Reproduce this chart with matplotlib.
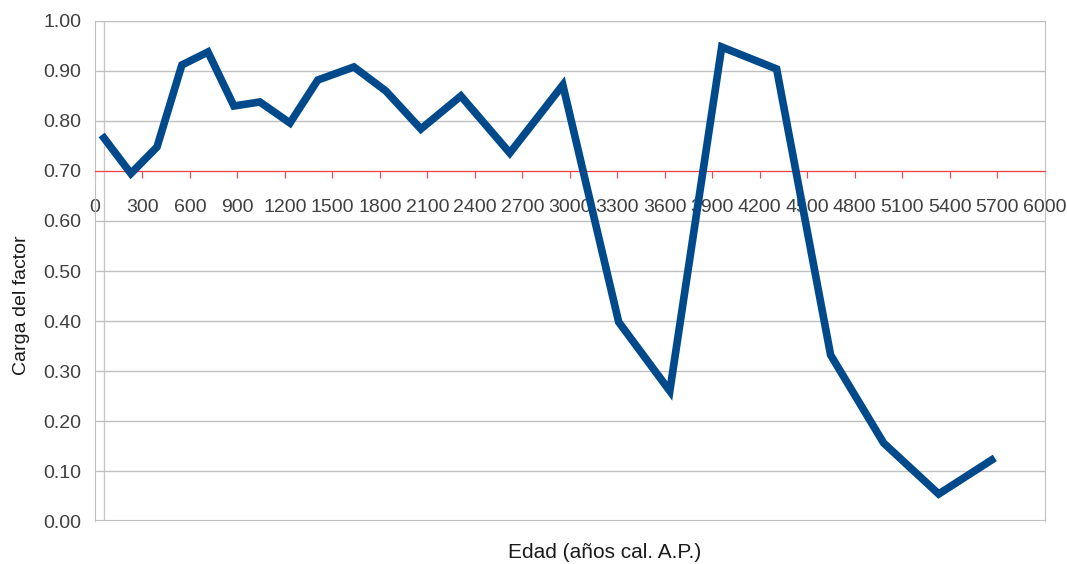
import numpy as np
import matplotlib.pyplot as plt

plt.rcParams['font.family'] = ['Liberation Sans', 'DejaVu Sans']

# Edad (años cal. A.P.) y carga del factor
edad = [57, 227, 392, 549, 714, 878, 1042, 1232, 1408, 1636, 1838, 2059,
        2312, 2621, 2956, 3309, 3632, 3960, 4307, 4648, 4983, 5331, 5665]
carga = [0.766, 0.695, 0.748, 0.912, 0.938, 0.830, 0.838, 0.796, 0.882, 0.908,
         0.860, 0.784, 0.850, 0.736, 0.872, 0.398, 0.260, 0.948, 0.904, 0.332,
         0.156, 0.054, 0.122]
xticks = np.arange(0, 6001, 300)
yticks = np.arange(0, 1.001, 0.1)

fig = plt.figure(figsize=(10.67, 5.64), dpi=100)
ax = fig.add_axes([0.089, 0.0762, 0.890, 0.8866])

# el eje X cruza en 0.70 (hay que fijarlo antes de los ticks)
ax.spines['bottom'].set_position(('data', 0.7))
ax.spines['bottom'].set_color('#ff3b3b')
for s in ['left', 'right', 'top']:
    ax.spines[s].set_color('#c0c0c0')

ax.set_xlim(0, 6000)
ax.set_ylim(0, 1.0)
ax.set_yticks(yticks)
ax.set_yticklabels([f"{v:.2f}" for v in yticks])
ax.set_xticks(xticks)
ax.set_xticklabels([str(v) for v in xticks])
ax.tick_params(axis='x', direction='out', length=5, color='#ff3b3b', pad=15,
               labelsize=14, labelcolor='#404040')
ax.tick_params(axis='y', length=0, pad=10, labelsize=14, labelcolor='#404040')

ax.grid(True, axis='y', color='#c0c0c0', lw=1)
ax.set_axisbelow(True)
ax.axvline(edad[0], color='#c8c8c8', lw=1, zorder=0)

# borde inferior del área de trazado
ax.axhline(0, color='#c0c0c0', lw=1.5, zorder=0)

ax.plot(edad, carga, color='#004a8c', lw=5.5, solid_joinstyle='miter', zorder=3)

ax.set_ylabel("Carga del factor", fontsize=14, color='#1a1a1a')
ax.yaxis.set_label_coords(-0.068, 0.432)
fig.text(0.567, 0.021, "Edad (años cal. A.P.)", fontsize=15, color='#1a1a1a',
         ha='center', va='center')

fig.savefig("out.png", dpi=100)
